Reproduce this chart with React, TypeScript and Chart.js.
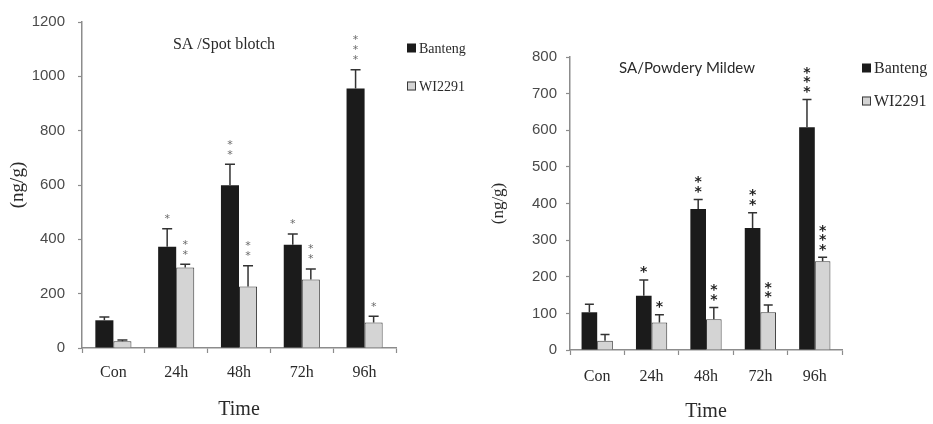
import React, { useEffect, useRef } from 'react';
import { Chart, registerables } from 'chart.js';

Chart.register(...registerables);

// ---------- data ----------
const categories = ['Con', '24h', '48h', '72h', '96h'];
const seriesNames = ['Banteng', 'WI2291'];
const xTitle = 'Time';
const yTitle = '(ng/g)';

const spotTitle = 'SA /Spot blotch';
const spotTicks = [0, 200, 400, 600, 800, 1000, 1200];
const spotBanteng = [102, 373, 599, 380, 955];
const spotBantengErr = [12, 66, 77, 40, 69];
const spotBantengSig = ['', '*', '**', '*', '***'];
const spotWI = [25, 296, 226, 252, 94];
const spotWIErr = [4, 12, 77, 39, 23];
const spotWISig = ['', '**', '**', '**', '*'];

const mildewTitle = 'SA/Powdery Mildew';
const mildewTicks = [0, 100, 200, 300, 400, 500, 600, 700, 800];
const mildewBanteng = [103, 148, 385, 333, 608];
const mildewBantengErr = [22, 43, 26, 42, 76];
const mildewBantengSig = ['', '*', '**', '**', '***'];
const mildewWI = [25, 75, 84, 103, 242];
const mildewWIErr = [17, 21, 32, 20, 11];
const mildewWISig = ['', '*', '**', '**', '***'];

// ---------- styles ----------
const SERIF = '"Liberation Serif", "DejaVu Serif", serif';
const SANS = '"Liberation Sans", Arial, sans-serif';
const AXIS = '#8c8c8c';
const BANTENG_COLOR = '#1b1b1b';
const WI_COLOR = '#d4d4d4';
const TEXT = '#2a2a2a';

type PanelCfg = {
  width: number;
  title: string;
  titleFont: string;
  titleX: number;
  titleY: number;
  ticks: number[];
  banteng: number[];
  bantengErr: number[];
  bantengSig: string[];
  wi: number[];
  wiErr: number[];
  wiSig: string[];
  padTop: number;
  padRight: number;
  yWidth: number;
  xHeight: number;
  xTickPad: number;
  xTitlePad: number;
  yTickPad: number;
  yTitleSize: number;
  yTitlePad: number;
  capHalf: number;
  starFont: string;
  starSize: number;
  starColor: string;
  starGap: number;
  starOffset: number;
  legendX: number;
  legendY: number[];
  legendFont: string;
};

function Panel({ cfg }: { cfg: PanelCfg }) {
  const ref = useRef<HTMLCanvasElement>(null);
  useEffect(() => {
    const errs = [cfg.bantengErr, cfg.wiErr];
    const sigs = [cfg.bantengSig, cfg.wiSig];
    const overlay = {
      id: 'overlay',
      afterDatasetsDraw(chart: any) {
        const ctx = chart.ctx;
        const y = chart.scales.y;
        chart.data.datasets.forEach((ds: any, i: number) => {
          const meta = chart.getDatasetMeta(i);
          meta.data.forEach((bar: any, j: number) => {
            const top = y.getPixelForValue(ds.data[j] + errs[i][j]);
            ctx.save();
            ctx.strokeStyle = '#333';
            ctx.lineWidth = 1.5;
            ctx.beginPath();
            ctx.moveTo(bar.x, bar.y);
            ctx.lineTo(bar.x, top);
            ctx.moveTo(bar.x - cfg.capHalf, top);
            ctx.lineTo(bar.x + cfg.capHalf, top);
            ctx.stroke();
            const s = sigs[i][j];
            ctx.fillStyle = cfg.starColor;
            ctx.font = cfg.starFont;
            ctx.textAlign = 'center';
            ctx.textBaseline = 'alphabetic';
            for (let k = 0; k < s.length; k++) {
              const cy = top - cfg.starOffset - k * cfg.starGap;
              ctx.fillText('*', bar.x, cy + cfg.starSize * 0.59);
            }
            ctx.restore();
          });
        });
      },
      afterDraw(chart: any) {
        const ctx = chart.ctx;
        ctx.save();
        // panel title
        ctx.fillStyle = TEXT;
        ctx.font = cfg.titleFont;
        ctx.textAlign = 'center';
        ctx.textBaseline = 'middle';
        ctx.fillText(cfg.title, cfg.titleX, cfg.titleY);
        // legend
        chart.data.datasets.forEach((ds: any, i: number) => {
          const ly = cfg.legendY[i];
          ctx.fillStyle = ds.backgroundColor;
          ctx.fillRect(cfg.legendX, ly - 4.5, 9, 9);
          if (ds.borderWidth) {
            ctx.strokeStyle = ds.borderColor;
            ctx.lineWidth = 1;
            ctx.strokeRect(cfg.legendX + 0.5, ly - 4, 8, 8);
          }
          ctx.fillStyle = TEXT;
          ctx.font = cfg.legendFont;
          ctx.textAlign = 'left';
          ctx.textBaseline = 'middle';
          ctx.fillText(ds.label, cfg.legendX + 12, ly + 1);
        });
        ctx.restore();
      },
    };

    const chart = new Chart(ref.current as HTMLCanvasElement, {
      type: 'bar',
      data: {
        labels: categories,
        datasets: [
          {
            label: seriesNames[0],
            data: cfg.banteng,
            backgroundColor: BANTENG_COLOR,
            borderColor: '#111',
            borderWidth: 0,
          },
          {
            label: seriesNames[1],
            data: cfg.wi,
            backgroundColor: WI_COLOR,
            borderColor: '#3a3a3a',
            borderWidth: 1,
          },
        ],
      },
      options: {
        responsive: false,
        animation: false,
        layout: { padding: { top: cfg.padTop, right: cfg.padRight, bottom: 0, left: 0 } },
        datasets: { bar: { categoryPercentage: 0.575, barPercentage: 1 } },
        plugins: {
          legend: { display: false },
          tooltip: { enabled: false },
        },
        scales: {
          x: {
            grid: {
              display: true,
              drawOnChartArea: false,
              drawTicks: true,
              tickLength: 5,
              tickColor: AXIS,
              tickWidth: 1.2,
              offset: true,
            },
            border: { color: AXIS, width: 1.5 },
            ticks: { font: { family: SERIF, size: 16 }, color: TEXT, padding: cfg.xTickPad },
            title: {
              display: true,
              text: xTitle,
              font: { family: SERIF, size: 20 },
              color: TEXT,
              padding: { top: 0, bottom: cfg.xTitlePad },
            },
            afterFit: (s: any) => {
              s.height = cfg.xHeight;
            },
          },
          y: {
            min: 0,
            max: cfg.ticks[cfg.ticks.length - 1],
            afterBuildTicks: (s: any) => {
              s.ticks = cfg.ticks.map((v) => ({ value: v }));
            },
            grid: { drawOnChartArea: false, drawTicks: true, tickLength: 4, tickColor: AXIS, tickWidth: 1.2 },
            border: { color: AXIS, width: 1.5 },
            ticks: {
              font: { family: SANS, size: 15 },
              color: '#4a4a4a',
              padding: cfg.yTickPad,
              callback: (v: any) => String(v),
            },
            title: {
              display: true,
              text: yTitle,
              font: { family: SERIF, size: cfg.yTitleSize },
              color: TEXT,
              padding: { top: cfg.yTitlePad, bottom: 0 },
            },
            afterFit: (s: any) => {
              s.width = cfg.yWidth;
            },
          },
        },
      } as any,
      plugins: [overlay],
    });
    return () => chart.destroy();
  }, []);
  return (
    <canvas
      ref={ref}
      width={cfg.width}
      height={424}
      style={{ display: 'block', width: cfg.width, height: 424 }}
    />
  );
}

const spotCfg: PanelCfg = {
  width: 470,
  title: spotTitle,
  titleFont: `16px ${SERIF}`,
  titleX: 224,
  titleY: 45,
  ticks: spotTicks,
  banteng: spotBanteng,
  bantengErr: spotBantengErr,
  bantengSig: spotBantengSig,
  wi: spotWI,
  wiErr: spotWIErr,
  wiSig: spotWISig,
  padTop: 15,
  padRight: 74,
  yWidth: 82,
  xHeight: 76,
  xTickPad: 10,
  xTitlePad: 2,
  yTickPad: 13,
  yTitleSize: 19,
  yTitlePad: 7,
  capHalf: 5,
  starFont: `11px "DejaVu Sans", sans-serif`,
  starSize: 11,
  starColor: '#6a6a6a',
  starGap: 10,
  starOffset: 13,
  legendX: 407,
  legendY: [48, 86],
  legendFont: `14px ${SERIF}`,
};

const mildewCfg: PanelCfg = {
  width: 463,
  title: mildewTitle,
  titleFont: `15px Lato, "Noto Sans", sans-serif`,
  titleX: 217,
  titleY: 68,
  ticks: mildewTicks,
  banteng: mildewBanteng,
  bantengErr: mildewBantengErr,
  bantengSig: mildewBantengSig,
  wi: mildewWI,
  wiErr: mildewWIErr,
  wiSig: mildewWISig,
  padTop: 57,
  padRight: 91,
  yWidth: 100,
  xHeight: 74,
  xTickPad: 12,
  xTitlePad: 0,
  yTickPad: 9,
  yTitleSize: 17,
  yTitlePad: 18,
  capHalf: 4.5,
  starFont: `bold 14px "DejaVu Sans", sans-serif`,
  starSize: 14,
  starColor: '#1e1e1e',
  starGap: 9.5,
  starOffset: 12,
  legendX: 392,
  legendY: [68, 101],
  legendFont: `16px ${SERIF}`,
};

export default function App() {
  return (
    <div style={{ position: 'fixed', left: 0, top: 0, width: 933, height: 424, background: '#fff' }}>
      <div style={{ position: 'absolute', left: 0, top: 0 }}>
        <Panel cfg={spotCfg} />
      </div>
      <div style={{ position: 'absolute', left: 470, top: 0 }}>
        <Panel cfg={mildewCfg} />
      </div>
    </div>
  );
}
